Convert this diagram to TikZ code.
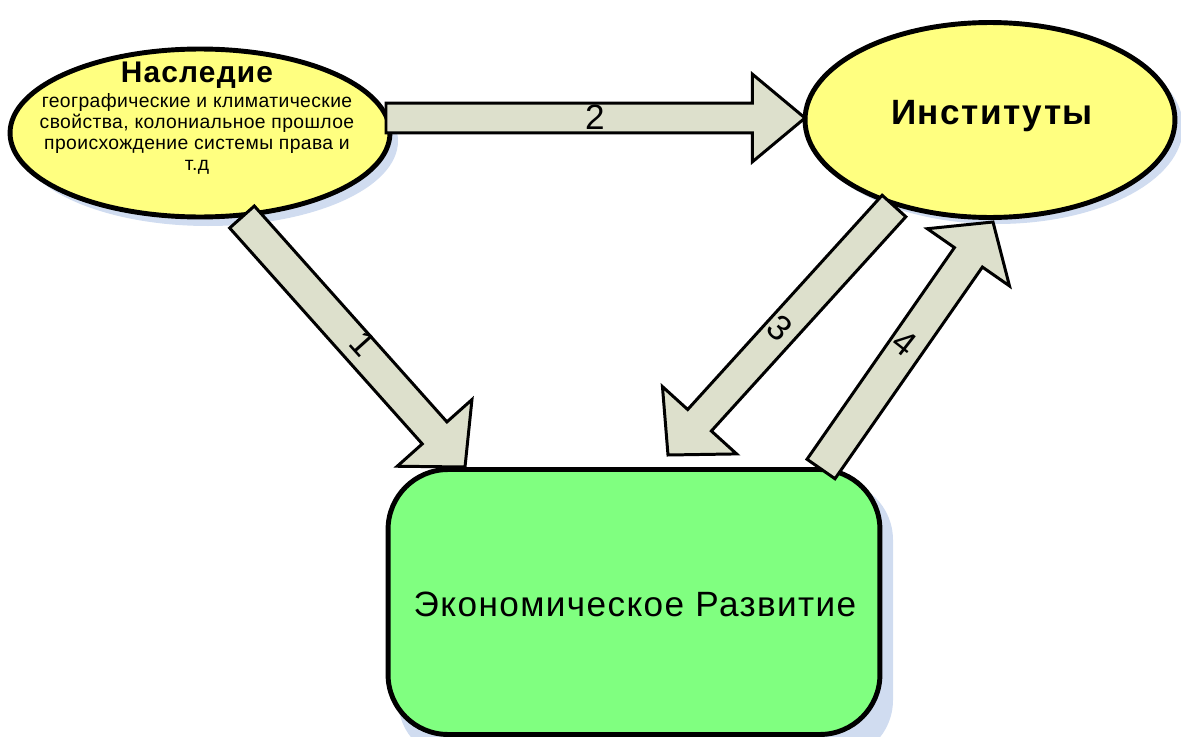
\documentclass[tikz,border=0pt]{standalone}
\usepackage{fontspec}
\setmainfont{Liberation Sans}
\usetikzlibrary{shapes.geometric,calc}
\definecolor{ylw}{RGB}{255,255,128}
\definecolor{grn}{RGB}{128,255,128}
\definecolor{arrfill}{RGB}{221,224,204}
\definecolor{shd}{RGB}{208,220,240}
\tikzset{
  oval/.style={ellipse, draw=black, line width=2.8pt, fill=ylw, inner sep=0pt},
  box/.style={rectangle, rounded corners=1.2cm, draw=black, line width=2.8pt, fill=grn, inner sep=0pt},
  shadowfill/.style={fill=shd},
  blockarrow/.style={draw=black, line width=1.7pt, fill=arrfill, line join=miter},
  numlabel/.style={font=\fontsize{20}{20}\selectfont, inner sep=0pt},
  titletext/.style={font=\fontsize{17}{19}\selectfont\bfseries\addfontfeature{LetterSpace=4}, inner sep=0pt},
  insttext/.style={font=\fontsize{20}{22}\selectfont\bfseries\addfontfeature{LetterSpace=4}, inner sep=0pt},
  smalltext/.style={font=\fontsize{11}{12}\selectfont\addfontfeature{LetterSpace=2}, align=center, inner sep=0pt},
  bigtext/.style={font=\fontsize{20}{22}\selectfont\addfontfeature{LetterSpace=4}, inner sep=0pt},
}
\newcommand\blockarr[5]{%
  \path ($(#2)!#5!(#1)$) coordinate (hb);
  \draw[blockarrow] ($(#1)!#3!90:(#2)$) -- ($(hb)!#3!90:(#2)$) -- ($(hb)!#4!90:(#2)$)
    -- (#2) -- ($(hb)!#4!-90:(#2)$) -- ($(hb)!#3!-90:(#2)$) -- ($(#1)!#3!-90:(#2)$) -- cycle;}
\begin{document}
\begin{tikzpicture}[x=0.02cm, y=-0.02cm]
  \useasboundingbox (0,0) rectangle (1181,737);
  % shadows
  \fill[shadowfill] (208,141) ellipse [x radius=190, y radius=85];
  \fill[shadowfill] (997,127) ellipse [x radius=186, y radius=97];
  \fill[shadowfill, rounded corners=1.2cm] (398,480) rectangle (893,760);
  % shapes
  \node[oval, minimum width=7.6cm, minimum height=3.36cm] (her) at (200,133) {};
  \node[oval, minimum width=7.4cm, minimum height=3.9cm] (inst) at (990,120) {};
  \node[box, minimum width=9.84cm, minimum height=5.3cm] (dev) at (634,602) {};
  % texts
  \node[titletext] (herT) at (197,75) {Наследие};
  \node[smalltext] (herS) at (197,134) {географические и климатические\\свойства, колониальное прошлое\\происхождение системы права и\\т.д};
  \node[insttext] (instT) at (992,116) {Институты};
  \node[bigtext] (devT) at (635,604) {Экономическое Развитие};
  % arrow end points
  \coordinate (t1) at (242,217); \coordinate (p1) at (465,467);
  \coordinate (t2) at (386,118); \coordinate (p2) at (805,118);
  \coordinate (t3) at (894,206); \coordinate (p3) at (668,455);
  \coordinate (t4) at (821,469); \coordinate (p4) at (993,222);
  \blockarr{t1}{p1}{9.4pt}{28.5pt}{26pt}
  \blockarr{t2}{p2}{8.5pt}{25pt}{30pt}
  \blockarr{t3}{p3}{9.1pt}{28.5pt}{26.7pt}
  \blockarr{t4}{p4}{9.7pt}{28.5pt}{24.5pt}
  % numbers
  \node[numlabel] (n1) at (363,344) [rotate=-48] {1};
  \node[numlabel] (n2) at (595,117) {2};
  \node[numlabel] (n3) at (780,328) [rotate=-42] {3};
  \node[numlabel] (n4) at (905,343) [rotate=-38] {4};
\end{tikzpicture}
\end{document}
